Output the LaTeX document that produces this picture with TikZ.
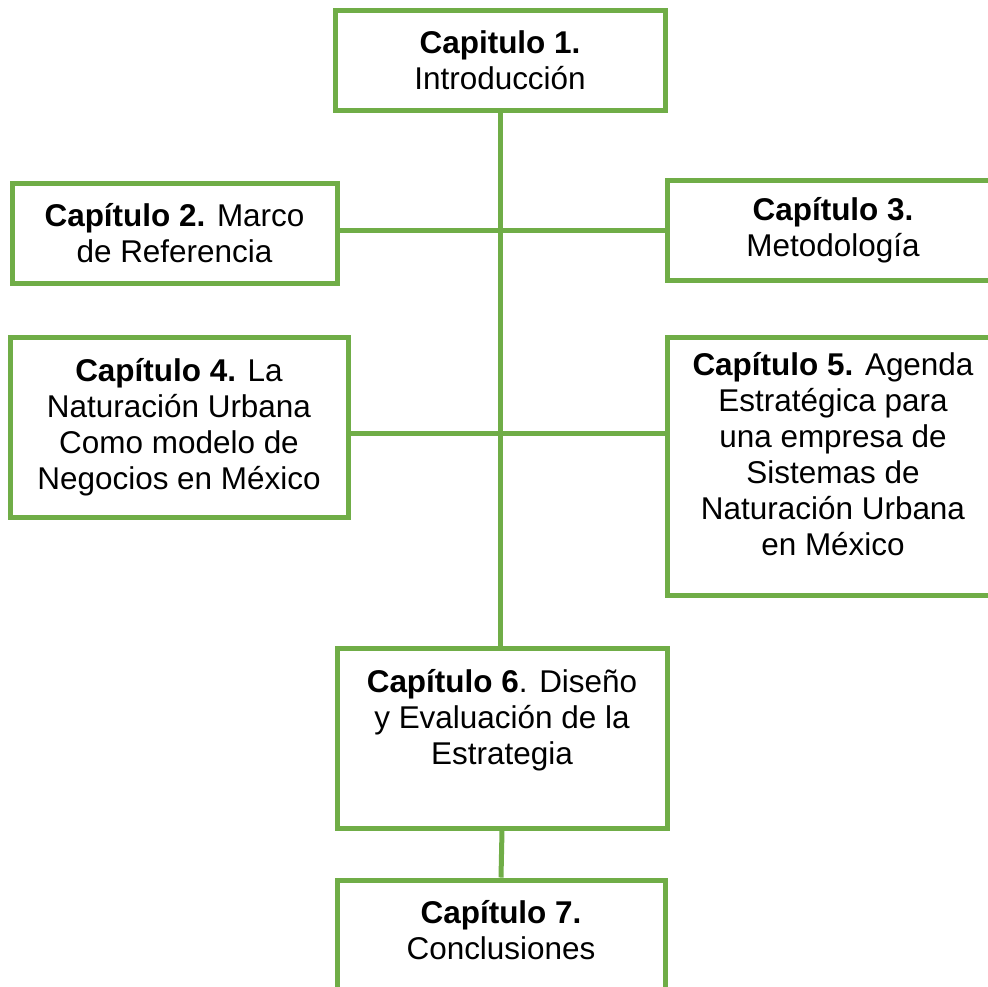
\documentclass[tikz,border=0pt]{standalone}
\usepackage{fontspec}
\setmainfont{Liberation Sans}
\definecolor{chapgreen}{HTML}{70AD47}
\tikzset{
chapbox/.style={draw=chapgreen,line width=3.75pt,align=center,inner sep=0pt,
  font=\fontsize{23.6}{27}\selectfont},
link/.style={draw=chapgreen,line width=3.75pt},
}
\begin{document}
\begin{tikzpicture}[x=0.75pt,y=-0.75pt]
\useasboundingbox (0,0) rectangle (988,986);
\clip (0,0) rectangle (988,986);

%%%% boxes
%%%%
\node[chapbox,minimum width=247.5pt,minimum height=75pt](cap1) at(500,60)
{\textbf{Capitulo 1.}\\Introducción};
\node[chapbox,minimum width=243.75pt,minimum height=75pt](cap2) at(174.5,233)
{\textbf{Capítulo 2.} Marco\\de Referencia};
\node[chapbox,minimum width=249pt,minimum height=75pt](cap3) at(833,230)
{\textbf{Capítulo 3.}\\Metodología};
\node[chapbox,minimum width=253.5pt,minimum height=135pt](cap4) at(179,427)
{\textbf{Capítulo 4.} La\\Naturación Urbana\\Como modelo de\\Negocios en México};
\node[chapbox,minimum width=249pt,minimum height=193.5pt,text depth=18pt](cap5) at(833,466)
{\textbf{Capítulo 5.} Agenda\\Estratégica para\\una empresa de\\Sistemas de\\Naturación Urbana\\en México};
\node[chapbox,minimum width=247.5pt,minimum height=135pt,text depth=32pt](cap6) at(502,738)
{\textbf{Capítulo 6}. Diseño\\y Evaluación de la\\Estrategia};
\node[chapbox,minimum width=246pt,minimum height=90pt,text depth=15pt](cap7) at(501,940)
{\textbf{Capítulo 7.}\\Conclusiones};

%%%% links
%%%%
\coordinate(j1) at(500,230);
\coordinate(j2) at(500,433);

\draw[link] (cap1.south) -- (cap1.south |- cap6.north);
\draw[link] (j1 -| cap2.east) -- (j1 -| cap3.west);
\draw[link] (j2 -| cap4.east) -- (j2 -| cap5.west);
\draw[link] (cap6.south) -- (cap7.north);

\end{tikzpicture}
\end{document}
